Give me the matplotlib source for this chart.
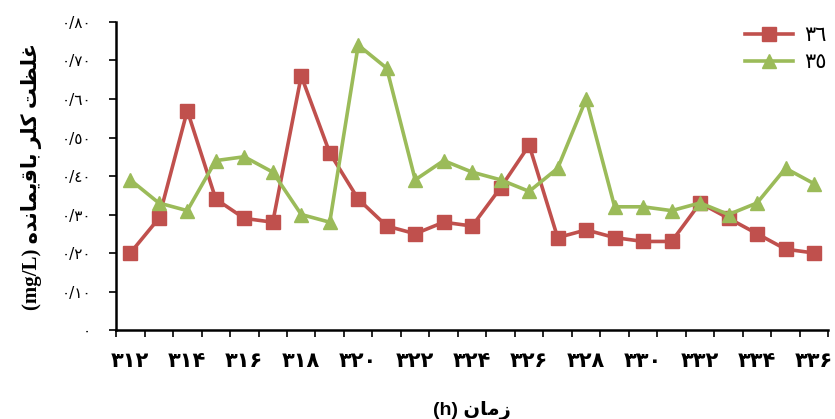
import matplotlib
matplotlib.use("Agg")
import matplotlib.pyplot as plt
from matplotlib.ticker import FixedLocator, NullFormatter

# hours 312..336
hours = [312, 313, 314, 315, 316, 317, 318, 319, 320, 321, 322, 323, 324,
         325, 326, 327, 328, 329, 330, 331, 332, 333, 334, 335, 336]
x_labels = ["۳۱۲", "۳۱۴", "۳۱۶", "۳۱۸", "۳۲۰", "۳۲۲", "۳۲۴",
            "۳۲۶", "۳۲۸", "۳۳۰", "۳۳۲", "۳۳۴", "۳۳۶"]

chlorine_36 = [0.20, 0.29, 0.57, 0.34, 0.29, 0.28, 0.66, 0.46, 0.34, 0.27,
               0.25, 0.28, 0.27, 0.37, 0.48, 0.24, 0.26, 0.24, 0.23, 0.23,
               0.33, 0.29, 0.25, 0.21, 0.20]
chlorine_35 = [0.39, 0.33, 0.31, 0.44, 0.45, 0.41, 0.30, 0.28, 0.74, 0.68,
               0.39, 0.44, 0.41, 0.39, 0.36, 0.42, 0.60, 0.32, 0.32, 0.31,
               0.33, 0.30, 0.33, 0.42, 0.38]

y_ticks = [0, 0.1, 0.2, 0.3, 0.4, 0.5, 0.6, 0.7, 0.8]
y_labels = ["٠", "٠/١٠", "٠/٢٠", "٠/٣٠", "٠/٤٠", "٠/٥٠", "٠/٦٠", "٠/٧٠", "٠/٨٠"]

legend_labels = ["٣٦", "٣٥"]

# Arabic text written in shaped presentation forms, visual order
x_title = "(h) \uFEE5\uFE8E\uFEE3\uFEAF"
y_title = ("(mg/L) "
           "\uFEE9\uFEAA\uFEE7\uFE8E\uFEE4\uFBFE\uFED7\uFE8E\uFE91 "
           "\uFEAE\uFEE0\uFB90 "
           "\uFE96\uFEC8\uFEE0\uFECF")

RED = "#C0504D"
GREEN = "#9BBB59"

fig = plt.figure(figsize=(8.35, 4.19), dpi=100)
ax = fig.add_axes([0.139, 0.2124, 0.853, 0.7351])

pos = list(range(len(hours)))
ax.plot(pos, chlorine_36, color=RED, lw=2.6, marker="s", ms=10,
        label=legend_labels[0])
ax.plot(pos, chlorine_35, color=GREEN, lw=2.6, marker="^", ms=10.5,
        label=legend_labels[1])

ax.set_xlim(-0.5, len(hours) - 0.5)
ax.set_ylim(0, 0.8)

ax.spines["top"].set_visible(False)
ax.spines["right"].set_visible(False)
ax.spines["left"].set_linewidth(1.8)
ax.spines["bottom"].set_linewidth(1.8)

# tick marks between categories, labels every two hours
ax.xaxis.set_major_locator(FixedLocator([p - 0.5 for p in range(len(hours) + 1)]))
ax.xaxis.set_major_formatter(NullFormatter())
ax.xaxis.set_minor_locator(FixedLocator(pos[::2]))
ax.set_xticklabels(x_labels, minor=True, fontsize=15, fontweight="bold",
                   family="DejaVu Sans")
ax.tick_params(axis="x", which="major", length=5, width=1.2, direction="out")
ax.tick_params(axis="x", which="minor", length=0, pad=15)

ax.set_yticks(y_ticks)
ax.set_yticklabels(y_labels, fontsize=11, family="DejaVu Sans")
ax.tick_params(axis="y", length=5, width=1.2, direction="out", pad=13)

ax.set_xlabel(x_title, fontsize=14, fontweight="bold",
              family=["Liberation Sans", "DejaVu Sans"], labelpad=22)
ax.set_ylabel(y_title, fontsize=15, fontweight="bold",
              family=["Liberation Serif", "DejaVu Sans"], labelpad=14)

fig.legend(loc="upper right", bbox_to_anchor=(1.012, 0.985), frameon=False,
           handlelength=2.3, handletextpad=0.5, labelspacing=0.35,
           prop={"size": 15, "family": "DejaVu Sans"})

fig.savefig("out.png", dpi=100)
